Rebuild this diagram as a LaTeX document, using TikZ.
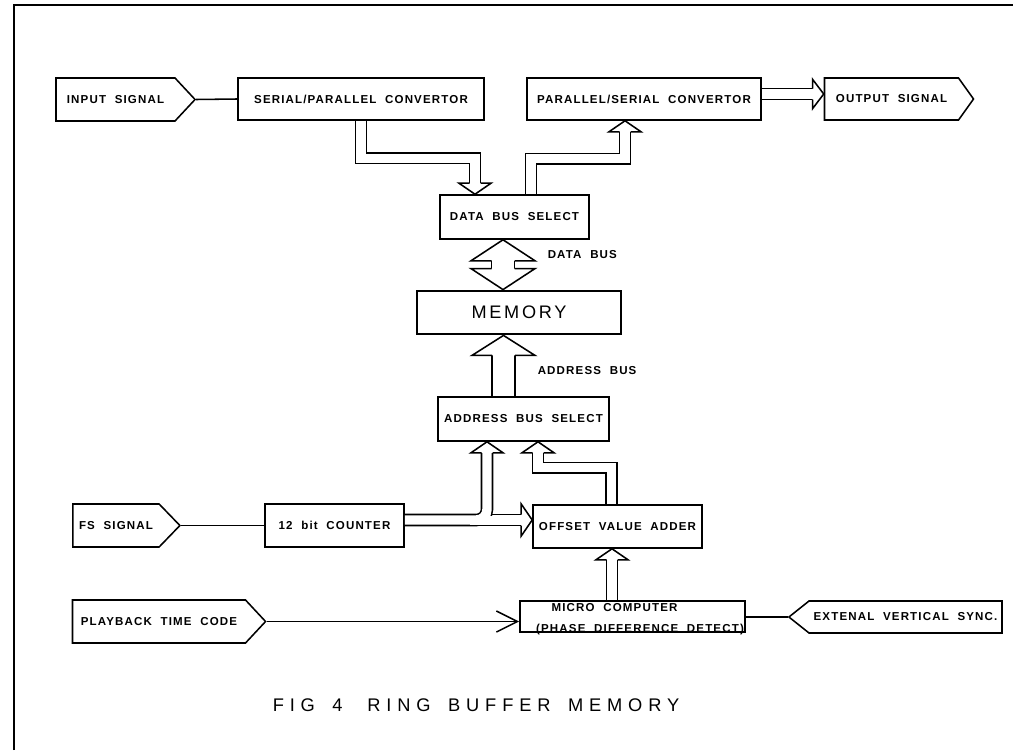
\documentclass[tikz,border=0pt]{standalone}
\usepackage{fontspec}
\setmainfont{Liberation Sans}
\usetikzlibrary{shapes.symbols,calc,arrows.meta}
\newfontfamily\plotfont[LetterSpace=10,WordSpace=2]{Liberation Sans}
\newfontfamily\thinfont[LetterSpace=15,WordSpace=1.5]{Liberation Sans}
\newfontfamily\capfamily[LetterSpace=32,WordSpace=1.6]{Liberation Sans}
\newcommand{\boxfont}{\plotfont\bfseries\fontsize{8.2pt}{10pt}\selectfont}
\newcommand{\mcfont}{\plotfont\bfseries\fontsize{8.2pt}{14.9pt}\selectfont}
\newcommand{\memfont}{\thinfont\fontsize{12.9pt}{15pt}\selectfont}
\newcommand{\capfont}{\capfamily\fontsize{13pt}{15pt}\selectfont}

\begin{document}
\begin{tikzpicture}[x=0.025cm, y=-0.025cm, line width=1.1pt,
  blk/.style={draw, rectangle, inner sep=0pt, minimum height=1.075cm, font=\boxfont},
  sig/.style={blk, signal, signal pointer angle=94},
  bus/.style={double, double distance=6.7pt},
  bigbus/.style={double, double distance=15.2pt},
  lbl/.style={font=\boxfont, anchor=west, inner sep=0pt},
  pics/bushead/.style n args={3}{code={\draw[fill=white] (-#1,#3) -- (-#2,#3) -- (0,0) -- (#2,#3) -- (#1,#3);}}]
  \useasboundingbox (0,0) rectangle (1013,750);
  % page frame
  \draw (14,750) -- (14,5) -- (1013,5);
  % top row
  \node[sig, signal to=east, minimum width=3.475cm] (insig) at (115.5,99.5) {INPUT SIGNAL};
  \node[blk, minimum width=6.15cm, minimum height=1.05cm] (sp) at (361,99) {SERIAL/PARALLEL CONVERTOR};
  \node[blk, minimum width=5.85cm, minimum height=1.05cm] (ps) at (644,99) {PARALLEL/SERIAL CONVERTOR};
  \node[sig, signal to=east, signal pointer angle=109, minimum width=3.725cm, minimum height=1.05cm] (outsig) at (891.5,99) {OUTPUT SIGNAL};
  % centre column
  \node[blk, minimum width=3.725cm, minimum height=1.1cm] (dbs) at (514.5,217) {DATA BUS SELECT};
  \node[blk, line width=2pt, minimum width=5.1cm, font=\memfont] (mem) at (519,312.5) {MEMORY};
  \node[blk, minimum width=4.275cm, minimum height=1.1cm] (abs) at (523.5,419) {ADDRESS BUS SELECT};
  % lower rows
  \node[sig, signal to=east, signal pointer angle=92, minimum width=2.675cm] (fssig) at (116,525.5) {FS SIGNAL};
  \node[blk, minimum width=3.475cm] (cnt) at (334.5,525.5) {12 bit COUNTER};
  \node[blk, minimum width=4.225cm] (ova) at (617.5,526.5) {OFFSET VALUE ADDER};
  \node[blk, minimum width=5.625cm, minimum height=0.775cm] (mc) at (632.5,616.5) {};
  \node[font=\mcfont, align=left, inner sep=0pt] (mctext) at (640,619.5) {\hspace*{11pt}MICRO COMPUTER\\(PHASE DIFFERENCE DETECT)};
  \node[sig, signal to=east, minimum width=4.825cm] (pbtc) at (159,621.5) {PLAYBACK TIME CODE};
  \node[sig, signal to=west, signal pointer angle=77, minimum width=5.325cm, minimum height=0.8cm] (ext) at (905.5,617) {EXTENAL VERTICAL SYNC.};
  % plain signal lines
  \draw (insig.east) -- (sp.west);
  \draw (fssig.east) -- (cnt.west);
  \draw[-{Straight Barb[length=15pt,width=15pt]}] (pbtc.east) -- (pbtc.east -| mc.west);
  \draw (ext.west) -- (ext.west -| mc.east);
  % S/P convertor -> data bus select
  \coordinate (dA) at ($(dbs.north)+(-39.5,0)$);
  \draw[bus, shorten >=7.8pt] (sp.south) |- ($(dA)+(0,-36)$) -- (dA);
  \pic[rotate=180] at (dA) {bushead={5.5}{16}{11}};
  % data bus select -> P/S convertor
  \coordinate (dB) at ($(ps.south)+(-19,0)$);
  \draw[bus, shorten >=7.8pt] ($(dbs.north)+(16.5,0)$) |- ($(dB)+(0,38)$) -- (dB);
  \pic at (dB) {bushead={5.5}{16}{11}};
  % P/S convertor -> output
  \coordinate (dC) at ($(outsig.west)+(0,-5)$);
  \draw[bus, shorten >=7.8pt] (ps.east |- dC) -- (dC);
  \pic[rotate=-90] at (dC) {bushead={5.5}{14.5}{11}};
  % data bus
  \coordinate (dD1) at ($(dbs.south)+(-11.5,0)$);
  \coordinate (dD2) at (dD1 |- mem.north);
  \draw[bigbus, shorten <=14.9pt, shorten >=14.9pt] (dD1) -- (dD2);
  \pic at (dD1) {bushead={11.5}{32}{21}};
  \pic[rotate=180] at (dD2) {bushead={11.5}{32}{21}};
  \node[lbl] (dbuslbl) at (547,255) {DATA BUS};
  % address bus
  \coordinate (dE) at ($(abs.north)+(-20,0)$);
  \coordinate (dE2) at (dE |- mem.south);
  \draw[bigbus, shorten >=14.2pt] (dE) -- (dE2);
  \pic at (dE2) {bushead={11.5}{31.5}{20}};
  \node[lbl] (abuslbl) at (537,371) {ADDRESS BUS};
  % counter -> adder, with branch up to address bus select
  \coordinate (f0) at ($(cnt.east)+(0,-5.5)$);
  \coordinate (dF) at ($(abs.south)+(-36.5,0)$);
  \draw[bus, shorten >=7.8pt] (f0) -- (f0 -| ova.west);
  \pic[rotate=-90] at (f0 -| ova.west) {bushead={5.5}{16}{11}};
  \draw[bus, shorten >=7.8pt, rounded corners=7.5pt] (f0) -| (dF);
  \pic at (dF) {bushead={5.5}{16}{11}};
  \fill[white] ($(dF |- f0)+(-17,-4.5)$) rectangle ($(dF |- f0)+(8,4.5)$);
  % adder -> address bus select
  \coordinate (dG) at ($(abs.south)+(14.5,0)$);
  \draw[bus, shorten >=7.8pt] ($(ova.north)+(-6,0)$) |- ($(dG)+(0,26)$) -- (dG);
  \pic at (dG) {bushead={5.5}{16}{11}};
  % micro computer -> adder
  \coordinate (dH) at ($(mc.north)+(-20.5,0)$);
  \draw[bus, shorten >=7.8pt] (dH) -- (dH |- ova.south);
  \pic at (dH |- ova.south) {bushead={5.5}{16}{11}};
  % caption
  \node[font=\capfont] (cap) at (476,705) {FIG 4\hspace{0.4em} RING BUFFER MEMORY};
\end{tikzpicture}
\end{document}
